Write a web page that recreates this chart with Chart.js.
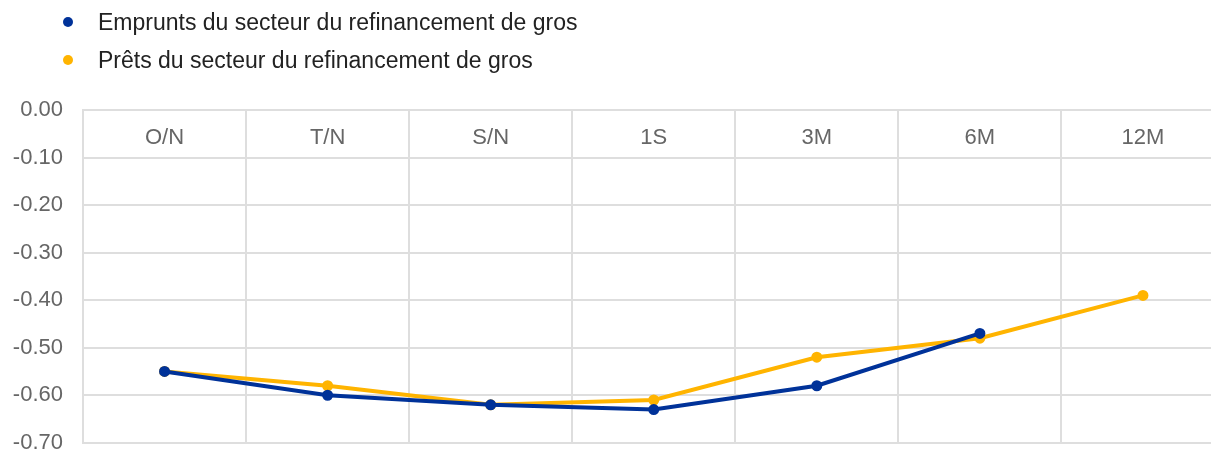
<!DOCTYPE html>
<html>
<head>
<meta charset="utf-8">
<script src="https://cdn.jsdelivr.net/npm/chart.js@4/dist/chart.umd.min.js"></script>
<style>
  html, body { margin: 0; padding: 0; background: #fff; overflow: hidden; }
  #wrap { position: absolute; left: 0; top: 0; width: 1232px; height: 476px; }
  #legend { position: absolute; left: 0; top: 0; font-family: "Liberation Sans", Arial, sans-serif; font-size: 23px; color: #222; }
  .item { position: absolute; left: 63px; white-space: nowrap; line-height: 26px; }
  .dot { display: inline-block; width: 10px; height: 10px; border-radius: 50%; margin-right: 25px; vertical-align: middle; position: relative; top: -2px; }
</style>
</head>
<body>
<div id="wrap"><canvas id="rateChart"></canvas></div>
<div id="legend"></div>
<script>
// Maturities along the curve
const maturities = ['O/N', 'T/N', 'S/N', '1S', '3M', '6M', '12M'];

// Borrowing rates (no 12M quote)
const empruntsRates = [-0.55, -0.60, -0.62, -0.63, -0.58, -0.47, null];
// Lending rates
const pretsRates = [-0.55, -0.58, -0.62, -0.61, -0.52, -0.48, -0.39];

const seriesNames = ['Emprunts du secteur du refinancement de gros', 'Prêts du secteur du refinancement de gros'];
const seriesColors = ['#003299', '#ffb400'];

Chart.defaults.font.family = '"Liberation Sans", Arial, sans-serif';

// Legend is two stacked rows, built by hand
const buildLegend = () => {
    const box = document.getElementById('legend');
    seriesNames.forEach((name, i) => {
        const row = document.createElement('div');
        row.className = 'item';
        row.style.top = (9 + i * 38) + 'px';
        row.innerHTML = '<span class="dot" style="background:' + seriesColors[i] + '"></span>' + name;
        box.appendChild(row);
    });
};

const makeSet = (i, values) => ({
    label: seriesNames[i],
    data: values,
    borderColor: seriesColors[i],
    backgroundColor: seriesColors[i],
    borderWidth: 4,
    pointRadius: 3.5,
    pointHoverRadius: 3.5,
    tension: 0,
    spanGaps: false
});

let rateChart;

const initChart = () => {
    const ctx = document.getElementById('rateChart').getContext('2d');
    rateChart = new Chart(ctx, {
        type: 'line',
        data: {
            labels: maturities,
            datasets: [makeSet(0, empruntsRates), makeSet(1, pretsRates)]
        },
        options: {
            responsive: true,
            maintainAspectRatio: false,
            animation: false,
            layout: { padding: { top: 110, right: 2, left: 0, bottom: 0 } },
            plugins: {
                legend: { display: false },
                tooltip: { enabled: false }
            },
            scales: {
                x: {
                    position: 'top',
                    offset: true,
                    grid: { offset: true, color: '#dedede', lineWidth: 2, drawTicks: false },
                    border: { color: '#dedede', width: 2 },
                    // labels sit inside the plot, just under the 0.00 line
                    ticks: { color: '#666', font: { size: 22 }, mirror: true, padding: 15 },
                    afterFit: (scale) => { scale.height = 0; }
                },
                y: {
                    min: -0.7,
                    max: 0,
                    grid: { color: '#dedede', lineWidth: 2, drawTicks: false },
                    border: { color: '#dedede', width: 2 },
                    ticks: {
                        stepSize: 0.1,
                        color: '#666',
                        font: { size: 22 },
                        padding: 20,
                        callback: (v) => v.toFixed(2)
                    },
                    afterFit: (scale) => { scale.width = 83; }
                }
            }
        }
    });
};

buildLegend();
initChart();
</script>
</body>
</html>
